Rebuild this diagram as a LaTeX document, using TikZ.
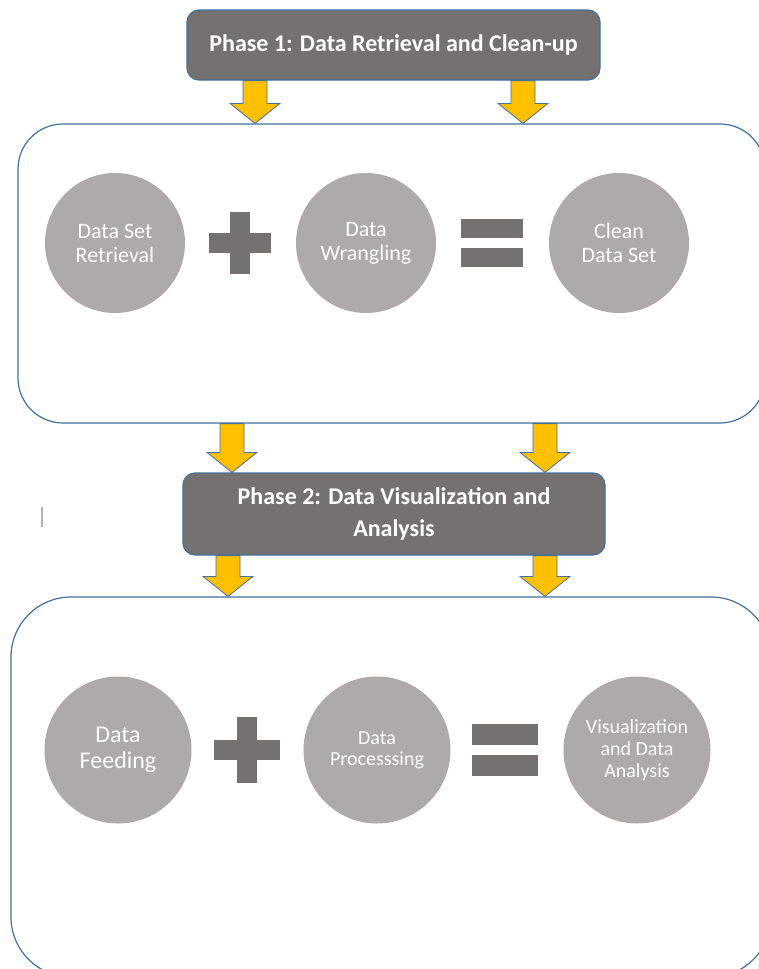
\documentclass[tikz,border=0pt]{standalone}
\usepackage{fontspec}
\setmainfont{Carlito}
\usetikzlibrary{calc}

\definecolor{ringgray}{HTML}{AEAAAA}
\definecolor{signgray}{HTML}{767171}
\definecolor{edgeblue}{HTML}{41719C}
\definecolor{arrowgold}{HTML}{FFC000}

\tikzset{
	phase/.style={draw=edgeblue, line width=1.2pt, fill=signgray, rounded corners=12pt,
		text=white, align=center, inner sep=0pt, font=\bfseries\fontsize{24}{32}\selectfont},
	panel/.style={draw=edgeblue, line width=1.2pt, rounded corners=45pt, inner sep=0pt},
	bubble/.style={circle, fill=ringgray, text=white, align=center, inner sep=0pt,
		minimum size=140pt, font=\fontsize{22}{24}\selectfont},
	sign/.style={fill=signgray},
	blockarrow/.style={draw=edgeblue, fill=arrowgold, line width=0.8pt, line join=miter}
}

% down arrow from #1 to #2
\newcommand{\blockarr}[2]{%
	\draw[blockarrow] let \p1=#1, \p2=#2 in
		(\x1-12pt,\y1) -- (\x1+12pt,\y1) -- (\x1+12pt,\y2+20pt) -- (\x1+25pt,\y2+20pt)
		-- (\x1,\y2) -- (\x1-25pt,\y2+20pt) -- (\x1-12pt,\y2+20pt) -- cycle;}

\begin{document}
\begin{tikzpicture}[x=1pt, y=-1pt]
	\useasboundingbox[fill=white] (0,0) rectangle (759,969);

	% phases and panels
	\node[phase, minimum width=413pt, minimum height=70pt] (p1) at (393.5,45)
		{Phase 1: Data Retrieval and Clean-up};
	\node[panel, minimum width=747pt, minimum height=299pt] (box1) at (391.5,273.5) {};
	\node[phase, minimum width=422pt, minimum height=82pt] (p2) at (394,514)
		{Phase 2: Data Visualization and\\Analysis};
	\node[panel, rounded corners=60pt, minimum width=760pt, minimum height=380pt] (box2) at (391,787) {};

	% step 1
	\node[bubble] (dsr) at (115,243) {Data Set\\Retrieval};
	\node[bubble] (dw) at (366,243) {Data\\Wrangling};
	\node[bubble] (cds) at (619,243) {Clean\\Data Set};

	% step 2
	\node[bubble, minimum size=147pt, font=\fontsize{24}{26}\selectfont] (df) at (118,750) {Data\\Feeding};
	\node[bubble, minimum size=147pt, font=\fontsize{20}{21}\selectfont] (dp) at (377,750) {Data\\Processsing};
	\node[bubble, minimum size=147pt, font=\fontsize{20}{22}\selectfont] (vda) at (637,750)
		{Visualization\\and Data\\Analysis};

	% plus and equals
	\foreach \x/\y/\s in {240/243/31, 247/750/33}
	{
		\fill[sign] (\x-\s,\y-10) rectangle (\x+\s,\y+10);
		\fill[sign] (\x-10,\y-\s) rectangle (\x+10,\y+\s);
	}
	\foreach \x/\y/\s in {492/243/31, 505/750/33}
	{
		\fill[sign] (\x-\s,\y-0.78*\s) rectangle (\x+\s,\y-5);
		\fill[sign] (\x-\s,\y+5) rectangle (\x+\s,\y+0.78*\s);
	}

	% arrows
	\foreach \x/\top/\bot in {255/p1/box1, 523/p1/box1, 232/box1/p2, 545/box1/p2, 228/p2/box2, 545/p2/box2}
	{
		\coordinate (ax) at (\x,0);
		\blockarr{(ax |- \top.south)}{(ax |- \bot.north)}
	}

	\draw[gray!60, line width=1.5pt] (42,507) -- (42,527);
\end{tikzpicture}
\end{document}
